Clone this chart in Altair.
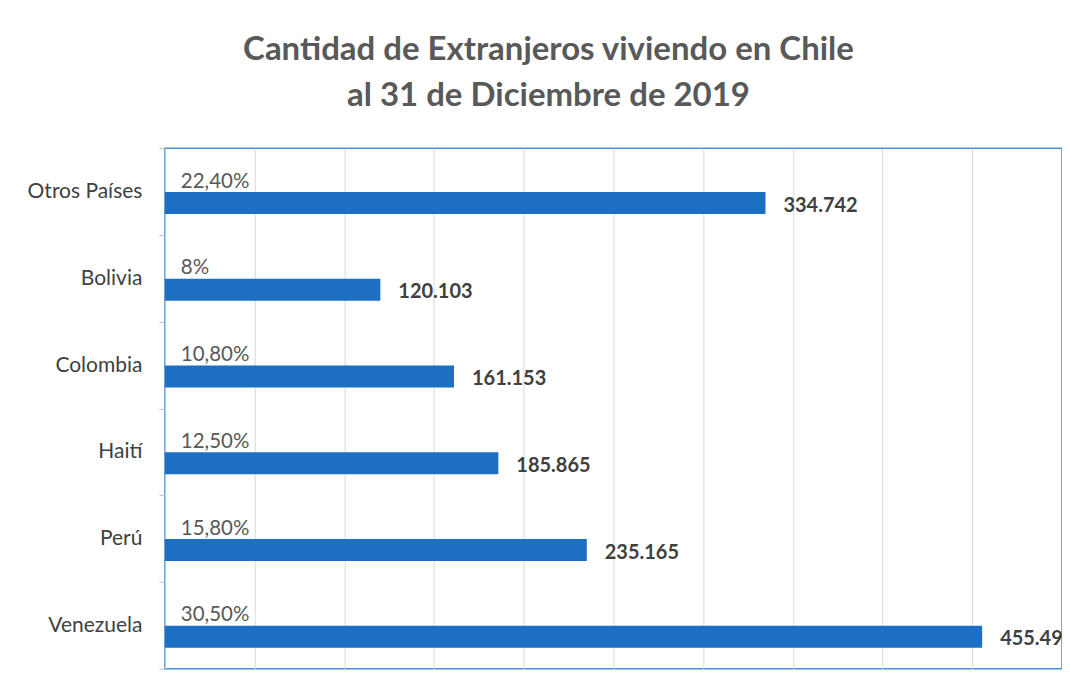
import altair as alt
import pandas as pd

countries = ["Otros Países", "Bolivia", "Colombia", "Haití", "Perú", "Venezuela"]
values = [334742, 120103, 161153, 185865, 235165, 455494]
percents = ["22,40%", "8%", "10,80%", "12,50%", "15,80%", "30,50%"]

df = pd.DataFrame({
    "pais": countries,
    "valor": values,
    "pct": percents,
})
df["etiqueta"] = df["valor"].map(lambda v: f"{v:,}".replace(",", "."))

FONT = "Lato"
BAR = "#1d6fc4"

y_enc = alt.Y(
    "pais:N",
    sort=countries,
    title=None,
    scale=alt.Scale(paddingInner=0, paddingOuter=0),
    axis=alt.Axis(
        labelFont=FONT, labelFontSize=21, labelColor="#404040",
        labelPadding=17, ticks=True, tickSize=6, tickColor="#bfbfbf",
        tickBand="extent", domainColor="#bfbfbf", domainWidth=1, grid=False,
    ),
)
x_enc = alt.X(
    "valor:Q",
    title=None,
    scale=alt.Scale(domain=[0, 500000], nice=False),
    axis=alt.Axis(
        values=list(range(0, 500001, 50000)), labels=False, ticks=False,
        domain=False, grid=True, gridColor="#d9d9d9", gridWidth=1,
    ),
)

bars = alt.Chart(df).mark_bar(color=BAR, height=22, yOffset=11.5).encode(
    x=x_enc, y=y_enc
)

vals = alt.Chart(df).mark_text(
    align="left", baseline="middle", dx=18, yOffset=14, font=FONT,
    fontSize=20, fontWeight="bold", color="#404040", clip=True,
).encode(x="valor:Q", y=alt.Y("pais:N", sort=countries), text="etiqueta:N")

pcts = alt.Chart(df).mark_text(
    align="left", baseline="alphabetic", dx=16, dy=-4, font=FONT,
    fontSize=20.5, color="#595959",
).encode(x=alt.value(0), y=alt.Y("pais:N", sort=countries), text="pct:N")

chart = alt.layer(bars, vals, pcts).properties(
    width=898,
    height=521,
    title=alt.TitleParams(
        text=["Cantidad de Extranjeros viviendo en Chile", "al 31 de Diciembre de 2019"],
        font=FONT, fontSize=33, fontWeight="bold", color="#595959",
        anchor="middle", frame="group", dx=-65, offset=24, lineHeight=46,
    ),
    autosize=alt.AutoSizeParams(type="none"),
    padding={"left": 157, "top": 140, "right": 0, "bottom": 12},
    background="white",
).configure_view(stroke="#4a8ed6", strokeWidth=1.5)

chart.save("out.html", embed_options={"renderer": "svg", "actions": False})
